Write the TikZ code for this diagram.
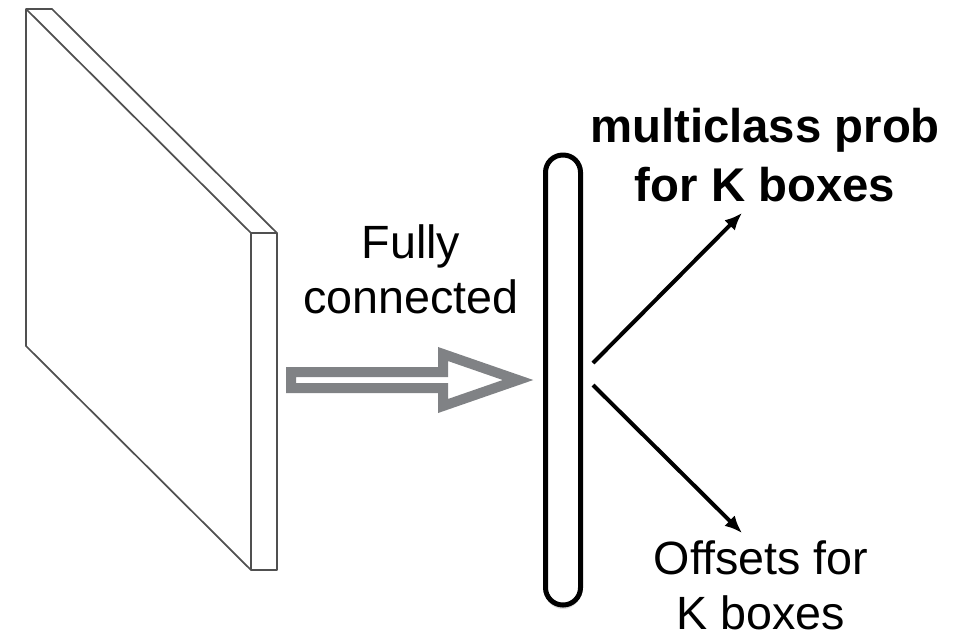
\documentclass[tikz,border=0pt]{standalone}
\usepackage{fontspec}
\setmainfont{Liberation Sans}
\usetikzlibrary{arrows.meta,shadows}

\definecolor{slabgray}{RGB}{80,80,80}
\definecolor{fcgray}{RGB}{128,130,133}

\tikzset{
  label/.style={align=center,inner sep=0pt,font=\fontsize{35}{41}\selectfont},
  outarrow/.style={line width=3pt,-{Latex[length=13pt,width=11pt]}},
}

\begin{document}
\begin{tikzpicture}[x=0.75pt,y=-0.75pt]
        \useasboundingbox (0,0) rectangle (972,637);
        % feature map slab
        \draw[slabgray,line width=1.3pt,line join=round]
                (26,9) -- (52,9) -- (277,233) -- (277,570) -- (251,570) -- (26,346) -- cycle
                (26,9) -- (251,233) -- (251,570)
                (251,233) -- (277,233);
        % hollow block arrow
        \draw[fcgray,line width=7.5pt,line join=miter]
                (291,372) -- (443,372) -- (443,354) -- (518,380) -- (443,406) -- (443,388) -- (291,388) -- cycle;
        \node[label] (fc) at (411,269) {Fully\\connected};
        % output vector
        \node[draw,line width=3.75pt,rounded corners=13pt,minimum width=26.25pt,minimum height=337.5pt,
              fill=white,drop shadow={opacity=0.25,shadow xshift=0pt,shadow yshift=-3pt}] (vec) at (563,380) {};
        \node[label,font=\fontsize{35.5}{44}\selectfont\bfseries] (prob) at (765,155) {multiclass prob\\for K boxes};
        \node[label] (offs) at (761,585) {Offsets for\\K boxes};
        \coordinate (a1) at (593,363);
        \coordinate (b1) at (742,213);
        \coordinate (a2) at (593,385);
        \coordinate (b2) at (742,533);
        \draw[outarrow] (a1) -- (b1);
        \draw[outarrow] (a2) -- (b2);
\end{tikzpicture}
\end{document}
